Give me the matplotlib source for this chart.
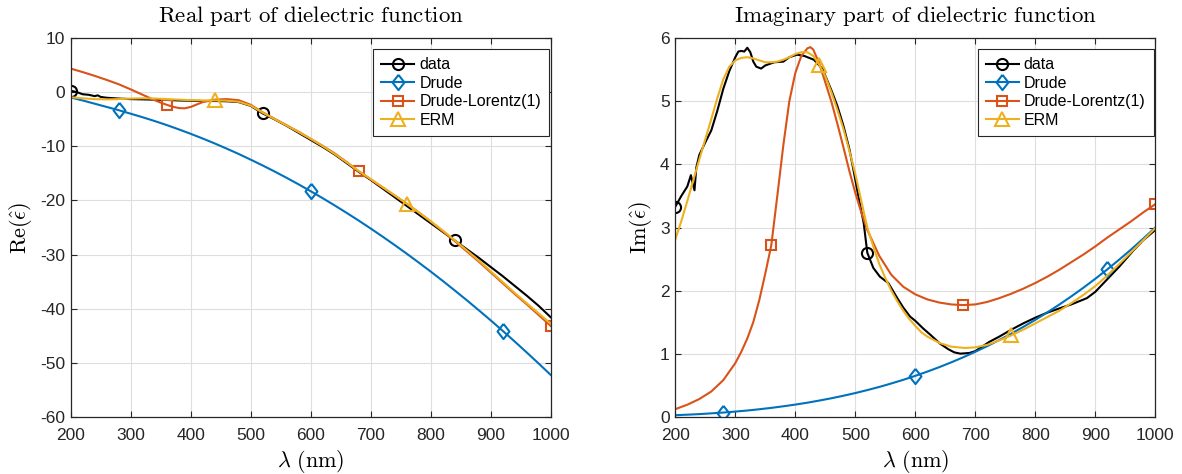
import numpy as np
import matplotlib
matplotlib.use("Agg")
import matplotlib.pyplot as plt

plt.rcParams['font.family'] = ['Liberation Sans', 'DejaVu Sans']
plt.rcParams['mathtext.fontset'] = 'cm'
plt.rcParams['axes.unicode_minus'] = False

# ---------------- Real part ----------------
lam_grid = [200, 220, 240, 260, 280, 300, 320, 340, 360, 380, 400, 420, 440, 460, 480,
            500, 520, 540, 560, 580, 600, 620, 640, 660, 680, 700, 720, 740, 760, 780,
            800, 820, 840, 860, 880, 900, 920, 940, 960, 980, 1000]

re_data_lam = [200, 210, 220, 230, 240, 245, 250, 260, 280, 300, 320, 340, 360, 380, 400,
               420, 440, 460, 480, 500, 520, 540, 560, 580, 600, 620, 640, 660, 680, 700,
               720, 740, 760, 780, 800, 820, 840, 860, 880, 900, 920, 940, 960, 980, 1000]
re_data = [0.3, 0.05, -0.35, -0.45, -0.7, -0.55, -0.85, -1.0, -1.15, -1.25, -1.3, -1.35, -1.4,
           -1.5, -1.55, -1.6, -1.6, -1.65, -1.8, -2.5, -3.9, -5.0, -6.2, -7.5, -8.8, -10.1,
           -11.5, -13.1, -14.7, -16.2, -17.8, -19.4, -21.0, -22.6, -24.2, -25.8, -27.4,
           -29.0, -30.6, -32.3, -34.0, -35.8, -37.6, -39.5, -41.6]

re_drude = [-0.95, -1.5, -2.1, -2.7, -3.3, -3.95, -4.61, -5.31, -6.05, -6.84, -7.67, -8.54,
            -9.45, -10.41, -11.40, -12.45, -13.53, -14.65, -15.82, -17.03, -18.29, -19.58,
            -20.92, -22.30, -23.72, -25.19, -26.70, -28.25, -29.84, -31.48, -33.15, -34.87,
            -36.64, -38.44, -40.29, -42.18, -44.11, -46.09, -48.11, -50.17, -52.27]

re_dl_lam = [200, 220, 240, 260, 280, 300, 320, 330, 340, 350, 360, 370, 380, 390, 400, 410,
             420, 440, 460, 480, 500, 520, 540, 560, 580, 600, 620, 640, 660, 680, 700, 720,
             740, 760, 780, 800, 820, 840, 860, 880, 900, 920, 940, 960, 980, 1000]
re_dl = [4.4, 3.75, 3.05, 2.3, 1.5, 0.55, -0.45, -0.95, -1.45, -1.9, -2.3, -2.65, -2.9, -2.95,
         -2.7, -2.25, -1.8, -1.35, -1.25, -1.45, -2.3, -3.7, -4.9, -6.1, -7.3, -8.6, -9.9,
         -11.3, -12.9, -14.6, -16.1, -17.6, -19.1, -20.6, -22.2, -23.9, -25.7, -27.5, -29.4,
         -31.3, -33.3, -35.3, -37.3, -39.2, -41.2, -43.2]

re_erm = [-0.9, -1.1, -1.25, -1.3, -1.25, -1.15, -1.1, -1.15, -1.25, -1.35, -1.45, -1.5,
          -1.5, -1.55, -1.75, -2.45, -3.75, -4.95, -6.15, -7.35, -8.6, -9.95, -11.4, -12.95,
          -14.55, -16.05, -17.55, -19.05, -20.6, -22.2, -23.85, -25.55, -27.35, -29.2, -31.1,
          -33.1, -35.1, -37.1, -39.0, -40.9, -42.8]

# ---------------- Imaginary part ----------------
im_data_lam = [200, 210, 220, 226, 229, 232, 235, 240, 250, 260, 270, 280, 290, 300, 305, 310,
               315, 320, 325, 330, 335, 343, 350, 365, 380, 390, 403, 415, 431, 445, 460, 470,
               480, 490, 497, 505, 514, 520, 530, 541, 555, 570, 580, 591, 600, 613, 625, 641,
               655, 665, 675, 690, 700, 724, 740, 760, 780, 800, 820, 841, 860, 886, 900, 919,
               940, 963, 980, 1000]
im_data = [3.33, 3.5, 3.65, 3.83, 3.70, 3.59, 3.95, 4.15, 4.35, 4.54, 4.85, 5.2, 5.48, 5.70,
           5.79, 5.80, 5.79, 5.85, 5.78, 5.63, 5.55, 5.52, 5.57, 5.62, 5.63, 5.70, 5.74, 5.72,
           5.66, 5.52, 5.18, 4.93, 4.62, 4.25, 3.91, 3.5, 3.07, 2.6, 2.36, 2.22, 2.12, 1.88,
           1.73, 1.59, 1.52, 1.40, 1.30, 1.16, 1.07, 1.02, 1.00, 1.01, 1.04, 1.19, 1.27, 1.38,
           1.48, 1.57, 1.65, 1.72, 1.78, 1.88, 1.98, 2.17, 2.38, 2.63, 2.80, 2.96]

im_drude = [0.024, 0.032, 0.041, 0.053, 0.066, 0.081, 0.098, 0.118, 0.140, 0.165, 0.192,
            0.222, 0.256, 0.292, 0.332, 0.375, 0.422, 0.472, 0.527, 0.585, 0.648, 0.715,
            0.786, 0.862, 0.943, 1.029, 1.120, 1.216, 1.317, 1.424, 1.536, 1.654, 1.778,
            1.908, 2.044, 2.187, 2.336, 2.492, 2.654, 2.824, 3.0]

im_dl_lam = [200, 220, 240, 260, 280, 300, 310, 320, 330, 340, 350, 360, 370, 380, 390, 400,
             410, 420, 425, 430, 440, 450, 460, 470, 480, 490, 500, 510, 520, 540, 560, 580,
             600, 620, 640, 660, 680, 700, 720, 740, 760, 780, 800, 820, 840, 860, 880, 900,
             920, 940, 960, 980, 1000]
im_dl = [0.12, 0.19, 0.28, 0.40, 0.58, 0.85, 1.03, 1.24, 1.5, 1.85, 2.27, 2.72, 3.5, 4.3,
         5.0, 5.45, 5.72, 5.84, 5.86, 5.82, 5.6, 5.3, 5.0, 4.65, 4.28, 3.9, 3.55, 3.24, 2.96,
         2.55, 2.25, 2.06, 1.94, 1.86, 1.81, 1.78, 1.77, 1.78, 1.82, 1.88, 1.95, 2.03, 2.12,
         2.22, 2.33, 2.45, 2.57, 2.7, 2.84, 2.97, 3.1, 3.24, 3.37]

im_erm_lam = [200, 210, 220, 230, 240, 250, 260, 270, 280, 290, 300, 310, 320, 330, 340, 350,
              360, 370, 380, 390, 400, 410, 420, 430, 440, 450, 460, 470, 480, 490, 500, 510,
              520, 530, 540, 550, 560, 570, 580, 590, 600, 610, 620, 640, 660, 683, 700, 720,
              740, 760, 780, 800, 820, 840, 860, 880, 900, 920, 940, 960, 980, 1000]
im_erm = [2.81, 3.1, 3.42, 3.75, 4.08, 4.4, 4.72, 5.05, 5.35, 5.55, 5.65, 5.69, 5.70, 5.68,
          5.65, 5.62, 5.62, 5.63, 5.66, 5.70, 5.75, 5.78, 5.78, 5.72, 5.58, 5.4, 5.15, 4.87,
          4.57, 4.22, 3.85, 3.42, 3.0, 2.7, 2.42, 2.2, 2.0, 1.83, 1.68, 1.55, 1.44, 1.34, 1.27,
          1.17, 1.11, 1.09, 1.10, 1.14, 1.21, 1.29, 1.38, 1.48, 1.58, 1.68, 1.80, 1.93, 2.07,
          2.24, 2.42, 2.61, 2.80, 2.99]

labels = ['data', 'Drude', 'Drude-Lorentz(1)', 'ERM']
data_marks = [200, 520, 840]
drude_marks = [280, 600, 920]
dl_marks = [360, 680, 1000]
erm_marks = [440, 760]

C_BLUE = (0, 0.447, 0.741)
C_RED = (0.85, 0.325, 0.098)
C_YEL = (0.929, 0.694, 0.125)
AX_COL = (0.15, 0.15, 0.15)

DIAMOND = [(0, 1), (0.78, 0), (0, -1), (-0.78, 0), (0, 1)]

W, H = 1182, 474
fig = plt.figure(figsize=(W / 100, H / 100), dpi=100)
ax1 = fig.add_axes([70.7 / W, (H - 416.7) / H, 480 / W, 378.4 / H])
ax2 = fig.add_axes([675.3 / W, (H - 416.7) / H, 480 / W, 378.4 / H])


def idx(lams, marks):
    return [i for i, l in enumerate(lams) if l in marks]


def draw(ax, series):
    for (lams, vals, col, mk, ms, marks, lab) in series:
        ax.plot(lams, vals, color=col, lw=1.5, marker=mk, markevery=idx(lams, marks),
                markersize=ms, markerfacecolor='none',
                markeredgewidth=1.5, markeredgecolor=col, label=lab)


draw(ax1, [
    (re_data_lam, re_data, 'black', 'o', 8, data_marks, labels[0]),
    (lam_grid, re_drude, C_BLUE, DIAMOND, 11, drude_marks, labels[1]),
    (re_dl_lam, re_dl, C_RED, 's', 7, dl_marks, labels[2]),
    (lam_grid, re_erm, C_YEL, '^', 9.5, erm_marks, labels[3]),
])
draw(ax2, [
    (im_data_lam, im_data, 'black', 'o', 8, data_marks, labels[0]),
    (lam_grid, im_drude, C_BLUE, DIAMOND, 11, drude_marks, labels[1]),
    (im_dl_lam, im_dl, C_RED, 's', 7, dl_marks, labels[2]),
    (im_erm_lam, im_erm, C_YEL, '^', 9.5, erm_marks, labels[3]),
])

ax1.set_ylim(-60, 10)
ax1.set_yticks(np.arange(-60, 11, 10))
ax2.set_ylim(0, 6)
ax2.set_yticks(np.arange(0, 7, 1))

for ax, title, ylab in [(ax1, r'$\mathrm{Real\ part\ of\ dielectric\ function}$', r'$\mathrm{Re}(\hat{\epsilon})$'),
                        (ax2, r'$\mathrm{Imaginary\ part\ of\ dielectric\ function}$', r'$\mathrm{Im}(\hat{\epsilon})$')]:
    ax.set_xlim(200, 1000)
    ax.set_xticks(np.arange(200, 1001, 100))
    ax.grid(True, color=(0.87, 0.87, 0.87), lw=0.8)
    ax.set_axisbelow(True)
    ax.tick_params(direction='in', length=4, width=0.8, colors=AX_COL, labelsize=12.5,
                   top=True, right=True, pad=4)
    ax.tick_params(axis='x', pad=8)
    for s in ax.spines.values():
        s.set_color(AX_COL)
        s.set_linewidth(0.9)
    ax.set_title(title, fontsize=16.5, color='black', pad=12)
    ax.set_xlabel(r'$\lambda\ \mathrm{(nm)}$', fontsize=16, color='black', labelpad=4)
    ax.set_ylabel(ylab, fontsize=16, color='black', labelpad=4)
    leg = ax.legend(loc='upper right', bbox_to_anchor=(1 - 1.7 / 480, 1 - 11 / 378.4),
                    fontsize=11.5, fancybox=False, framealpha=1,
                    edgecolor=AX_COL, borderaxespad=0, handlelength=2.1,
                    handletextpad=0.3, labelspacing=0.22, borderpad=0.5, numpoints=1)
    leg.get_frame().set_linewidth(0.8)

fig.savefig('out.png', dpi=100)
